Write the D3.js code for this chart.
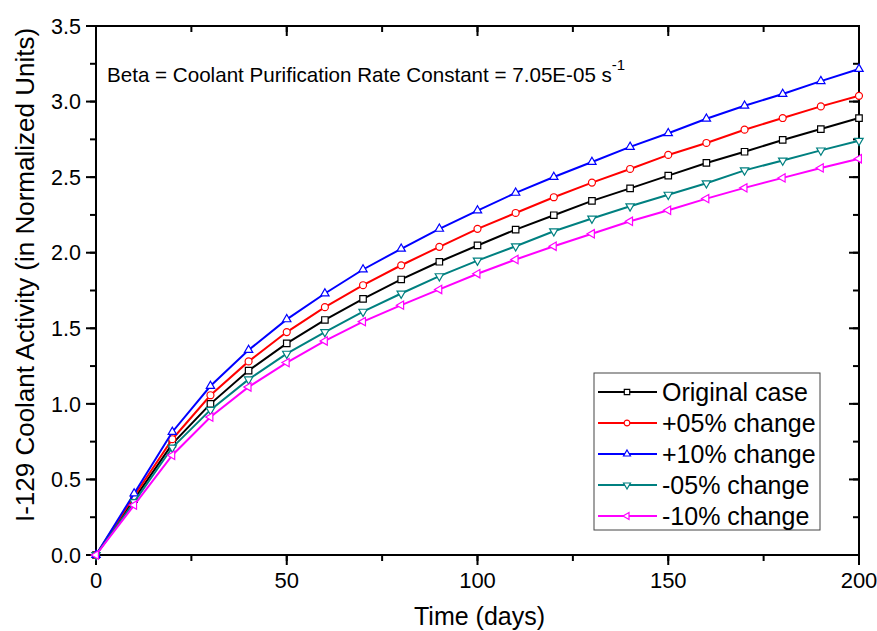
<!DOCTYPE html>
<html>
<head>
<meta charset="utf-8">
<script src="https://cdn.jsdelivr.net/npm/d3@7"></script>
<style>
  body { margin: 0; background: #fff; }
  svg { display: block; font-family: "Liberation Sans", Arial, sans-serif; }
</style>
</head>
<body>
<div id="chart"></div>
<script>
// time points (days)
var days = [0, 10, 20, 30, 40, 50, 60, 70, 80, 90, 100, 110, 120, 130, 140, 150, 160, 170, 180, 190, 200];

// values
var originalCase = [0, 0.37, 0.735, 1.00, 1.22, 1.40, 1.555, 1.695, 1.823, 1.94, 2.048, 2.153, 2.248, 2.343, 2.426, 2.51, 2.594, 2.668, 2.746, 2.818, 2.891];
var plus05 = [0, 0.39, 0.766, 1.057, 1.281, 1.475, 1.64, 1.785, 1.917, 2.039, 2.158, 2.263, 2.367, 2.464, 2.554, 2.647, 2.726, 2.814, 2.891, 2.968, 3.038];
var plus10 = [0, 0.407, 0.814, 1.118, 1.356, 1.559, 1.73, 1.889, 2.026, 2.158, 2.279, 2.396, 2.501, 2.60, 2.70, 2.79, 2.886, 2.972, 3.05, 3.135, 3.216];
var minus05 = [0, 0.35, 0.711, 0.96, 1.162, 1.332, 1.475, 1.61, 1.73, 1.845, 1.948, 2.043, 2.142, 2.226, 2.307, 2.384, 2.46, 2.545, 2.61, 2.677, 2.741];
var minus10 = [0, 0.33, 0.66, 0.913, 1.112, 1.273, 1.416, 1.544, 1.653, 1.757, 1.861, 1.955, 2.043, 2.125, 2.208, 2.281, 2.358, 2.429, 2.495, 2.561, 2.622];

var seriesNames = ["Original case", "+05% change", "+10% change", "-05% change", "-10% change"];
var xTicks = [0, 50, 100, 150, 200];
var yTicks = [0, 0.5, 1.0, 1.5, 2.0, 2.5, 3.0, 3.5];

var W = 877, H = 631;
var margin = {left: 96, right: 18, top: 26, bottom: 76};

var series = [
    {name: seriesNames[0], values: originalCase, color: "#000000", shape: d3.symbolSquare, size: 42, rot: 0},
    {name: seriesNames[1], values: plus05, color: "#ff0000", shape: d3.symbolCircle, size: 38, rot: 0},
    {name: seriesNames[2], values: plus10, color: "#0000ff", shape: d3.symbolTriangle, size: 30, rot: 0},
    {name: seriesNames[3], values: minus05, color: "#008080", shape: d3.symbolTriangle, size: 30, rot: 180},
    {name: seriesNames[4], values: minus10, color: "#ff00ff", shape: d3.symbolTriangle, size: 30, rot: -90}
];

var svg = d3.select("#chart").append("svg")
    .attr("width", W).attr("height", H);

var x = d3.scaleLinear().domain([0, 200]).range([margin.left, W - margin.right]);
var y = d3.scaleLinear().domain([0, 3.5]).range([H - margin.bottom, margin.top]);

var minorX = d3.range(0, 201, 25);
var minorY = d3.range(0, 3.51, 0.25);

// ticks: outward on left/bottom, inward on top/right
function tickLines(g, list, isMajor, side) {
    var len = isMajor ? 10 : 6;
    g.selectAll(null).data(list).enter().append("line")
        .attr("x1", function (d) { return side == "bottom" || side == "top" ? x(d) : (side == "left" ? x(0) : x(200)); })
        .attr("x2", function (d) { return side == "bottom" || side == "top" ? x(d) : (side == "left" ? x(0) - len : x(200) - len); })
        .attr("y1", function (d) { return side == "left" || side == "right" ? y(d) : (side == "bottom" ? y(0) : y(3.5)); })
        .attr("y2", function (d) { return side == "left" || side == "right" ? y(d) : (side == "bottom" ? y(0) + len : y(3.5) + len); })
        .attr("stroke", "#000").attr("stroke-width", 2);
}

var axes = svg.append("g");
["left", "right"].forEach(function (s) {
    tickLines(axes, minorY, false, s);
    tickLines(axes, yTicks, true, s);
});
["bottom", "top"].forEach(function (s) {
    tickLines(axes, minorX, false, s);
    tickLines(axes, xTicks, true, s);
});

axes.append("rect")
    .attr("x", x(0)).attr("y", y(3.5))
    .attr("width", x(200) - x(0)).attr("height", y(0) - y(3.5))
    .attr("fill", "none").attr("stroke", "#000").attr("stroke-width", 2);

// tick labels
axes.selectAll(".ylab").data(yTicks).enter().append("text")
    .attr("x", x(0) - 15).attr("y", function (d) { return y(d); })
    .attr("dy", "0.36em").attr("text-anchor", "end")
    .attr("font-size", 21.5)
    .text(function (d) { return d3.format(".1f")(d); });

axes.selectAll(".xlab").data(xTicks).enter().append("text")
    .attr("x", function (d) { return x(d); }).attr("y", y(0) + 33)
    .attr("text-anchor", "middle")
    .attr("font-size", 22)
    .text(function (d) { return d; });

// axis titles
svg.append("text")
    .attr("x", (x(0) + x(200)) / 2 + 2).attr("y", H - 6)
    .attr("text-anchor", "middle").attr("font-size", 25)
    .text("Time (days)");

svg.append("text")
    .attr("transform", "translate(34,275) rotate(-90)")
    .attr("text-anchor", "middle").attr("font-size", 26)
    .text("I-129 Coolant Activity (in Normalized Units)");

// annotation
var note = svg.append("text")
    .attr("x", 107).attr("y", 82)
    .attr("font-size", 20.6);
note.append("tspan").text("Beta = Coolant Purification Rate Constant = 7.05E-05 s");
note.append("tspan").attr("dy", -12).attr("font-size", 15).text("-1");

// lines and markers
var line = d3.line()
    .x(function (d, i) { return x(days[i]); })
    .y(function (d) { return y(d); });

var plot = svg.append("g");
series.forEach(function (s) {
    plot.append("path")
        .attr("d", line(s.values))
        .attr("fill", "none").attr("stroke", s.color).attr("stroke-width", 2);
    plot.selectAll(null).data(s.values).enter().append("path")
        .attr("d", d3.symbol().type(s.shape).size(s.size))
        .attr("transform", function (d, i) { return "translate(" + x(days[i]) + "," + y(d) + ") rotate(" + s.rot + ")"; })
        .attr("fill", "#fff").attr("stroke", s.color).attr("stroke-width", 1.2);
});

// legend
var legend = svg.append("g").attr("transform", "translate(594,373)");
legend.append("rect")
    .attr("width", 226).attr("height", 157)
    .attr("fill", "#fff").attr("stroke", "#444").attr("stroke-width", 1);
series.forEach(function (s, i) {
    var row = legend.append("g").attr("transform", "translate(0," + (19 + i * 31) + ")");
    row.append("line").attr("x1", 4).attr("x2", 63)
        .attr("stroke", s.color).attr("stroke-width", 2);
    row.append("path")
        .attr("d", d3.symbol().type(s.shape).size(s.size * 0.7))
        .attr("transform", "translate(33,0) rotate(" + s.rot + ")")
        .attr("fill", "#fff").attr("stroke", s.color).attr("stroke-width", 1.2);
    row.append("text").attr("x", 68).attr("dy", "0.36em")
        .attr("font-size", 25).text(s.name);
});
</script>
</body>
</html>
